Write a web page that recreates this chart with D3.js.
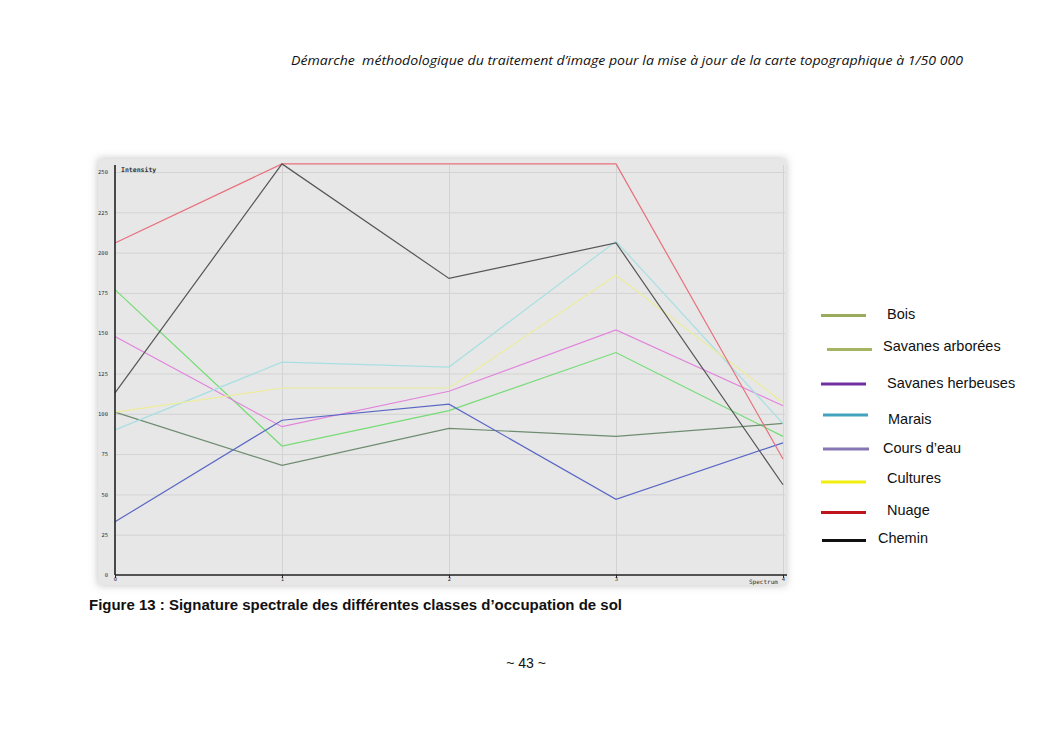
<!DOCTYPE html>
<html><head><meta charset="utf-8">
<script src="https://cdn.jsdelivr.net/npm/d3@7"></script>
<style>
html,body{margin:0;padding:0;background:#fff;}
svg{display:block;}
</style></head>
<body>
<svg id="c" width="1053" height="745"></svg>
<script>
// ---- data ----
const bands = [0, 1, 2, 3, 4];
const yTicks = [0, 25, 50, 75, 100, 125, 150, 175, 200, 225, 250];
const seriesNames = ["Bois", "Savanes arborées", "Savanes herbeuses", "Marais", "Cours d'eau", "Cultures", "Nuage", "Chemin"];
const bois = [177, 80, 102, 138, 86];
const savanesArborees = [101, 68, 91, 86, 94];
const savanesHerbeuses = [148, 92, 114, 152, 105];
const marais = [90, 132, 129, 207, 94];
const coursDeau = [33, 96, 106, 47, 82];
const cultures = [101, 116, 116, 186, 107];
const nuage = [206, 255, 255, 255, 72];
const chemin = [113, 255, 184, 206, 56];
const plotColors = ["#74dc74", "#6e8c70", "#e283dc", "#a9dfe3", "#5a68c4", "#ecec9c", "#e8707c", "#555555"];
const legendLabels = ["Bois", "Savanes arborées", "Savanes herbeuses", "Marais", "Cours d’eau", "Cultures", "Nuage", "Chemin"];
const legendColors = ["#9bab5e", "#a3b563", "#7030a0", "#43a3bf", "#8676b4", "#f2ee10", "#c0141c", "#111111"];

const allSeries = [bois, savanesArborees, savanesHerbeuses, marais, coursDeau, cultures, nuage, chemin];

const svg = d3.select("#c");

// header
svg.append("text").attr("x", 291).attr("y", 65)
  .attr("textLength", 672).attr("lengthAdjust", "spacingAndGlyphs")
  .style("white-space", "pre")
  .style("font-family", "'Open Sans', 'DejaVu Sans', sans-serif").style("font-style", "italic")
  .style("font-size", "13.5px").attr("fill", "#111")
  .text("Démarche  méthodologique du traitement d’image pour la mise à jour de la carte topographique à 1/50 000");

// chart panel
const defs = svg.append("defs");
const f = defs.append("filter").attr("id", "sh").attr("x", "-5%").attr("y", "-5%").attr("width", "110%").attr("height", "110%");
f.append("feDropShadow").attr("dx", 0).attr("dy", 0).attr("stdDeviation", 4).attr("flood-color", "#000").attr("flood-opacity", 0.25);

svg.append("rect").attr("x", 98).attr("y", 159).attr("width", 688).attr("height", 426)
  .attr("fill", "#e7e7e7").attr("filter", "url(#sh)");

const x = d3.scaleLinear().domain([0, 4]).range([115, 783]);
const y = d3.scaleLinear().domain([0, 250]).range([575, 172]);

// gridlines
svg.append("g").attr("transform", "translate(115,0)")
  .call(d3.axisLeft(y).tickValues(yTicks.slice(1)).tickSize(-670).tickFormat(""))
  .call(g => g.select(".domain").remove())
  .call(g => g.selectAll("line").attr("stroke", "#d3d3d3").attr("stroke-width", 1));
svg.append("g").attr("transform", "translate(0,575)")
  .call(d3.axisBottom(x).tickValues(bands.slice(1)).tickSize(-410).tickFormat(""))
  .call(g => g.select(".domain").remove())
  .call(g => g.selectAll("line").attr("stroke", "#d3d3d3").attr("stroke-width", 1));

// series lines
const line = d3.line().x((d, i) => x(bands[i])).y(d => y(d));
allSeries.forEach((s, k) => {
  svg.append("path").datum(s).attr("d", line)
    .attr("fill", "none").attr("stroke", plotColors[k]).attr("stroke-width", 1.2);
});

// axes
const yAxis = svg.append("g").attr("transform", "translate(115,0)")
  .call(d3.axisLeft(y).tickValues(yTicks).tickFormat(d3.format("d")).tickSize(0).tickPadding(7));
yAxis.select(".domain").attr("d", "M0,165V575").attr("stroke", "#222").attr("stroke-width", 1.6);
yAxis.selectAll("text").style("font-family", "'DejaVu Sans Mono', monospace").style("font-size", "5.5px").attr("fill", "#333");

const xAxis = svg.append("g").attr("transform", "translate(0,575)")
  .call(d3.axisBottom(x).tickValues(bands).tickFormat(d3.format("d")).tickSize(3).tickPadding(-1));
xAxis.select(".domain").attr("d", "M115,0H787").attr("stroke", "#222").attr("stroke-width", 1.6);
xAxis.selectAll("line").attr("stroke", "#222");
xAxis.selectAll("text").style("font-family", "'DejaVu Sans Mono', monospace").style("font-size", "5.5px").attr("fill", "#333");

svg.append("text").attr("x", 121).attr("y", 172).text("Intensity")
  .style("font-family", "'DejaVu Sans Mono', monospace").style("font-size", "6.5px").style("font-weight", "bold").attr("fill", "#333");
svg.append("text").attr("x", 749).attr("y", 584).text("Spectrum")
  .style("font-family", "'DejaVu Sans Mono', monospace").style("font-size", "6px").attr("fill", "#333");

// legend
const legLineX1 = [821, 827, 821, 823, 823, 821, 821, 822];
const legLineX2 = [866, 872, 866, 868, 869, 866, 866, 866];
const legLineY = [315.5, 349.5, 384, 415, 449, 482, 512.5, 540.5];
const legTextX = [887, 883, 887, 888, 883, 887, 887, 878];
const legTextY = [314, 346, 383, 419, 448, 478, 510, 538];
const lg = svg.append("g");
legendLabels.forEach((t, i) => {
  lg.append("line").attr("x1", legLineX1[i]).attr("x2", legLineX2[i]).attr("y1", legLineY[i]).attr("y2", legLineY[i])
    .attr("stroke", legendColors[i]).attr("stroke-width", 3);
  lg.append("text").attr("x", legTextX[i]).attr("y", legTextY[i]).attr("dy", "0.35em").text(t)
    .style("font-family", "'Liberation Sans', Arial, sans-serif").style("font-size", "14.5px").attr("fill", "#111");
});

// caption
svg.append("text").attr("x", 89).attr("y", 610).text("Figure 13 : Signature spectrale des différentes classes d’occupation de sol")
  .attr("textLength", 533).attr("lengthAdjust", "spacingAndGlyphs")
  .style("font-family", "'Liberation Sans', Arial, sans-serif").style("font-size", "14.5px").style("font-weight", "bold").attr("fill", "#111");

// page number
svg.append("text").attr("x", 526).attr("y", 668).attr("text-anchor", "middle").text("~ 43 ~")
  .style("font-family", "'Liberation Sans', Arial, sans-serif").style("font-size", "14px").attr("fill", "#111");
</script>
</body></html>
